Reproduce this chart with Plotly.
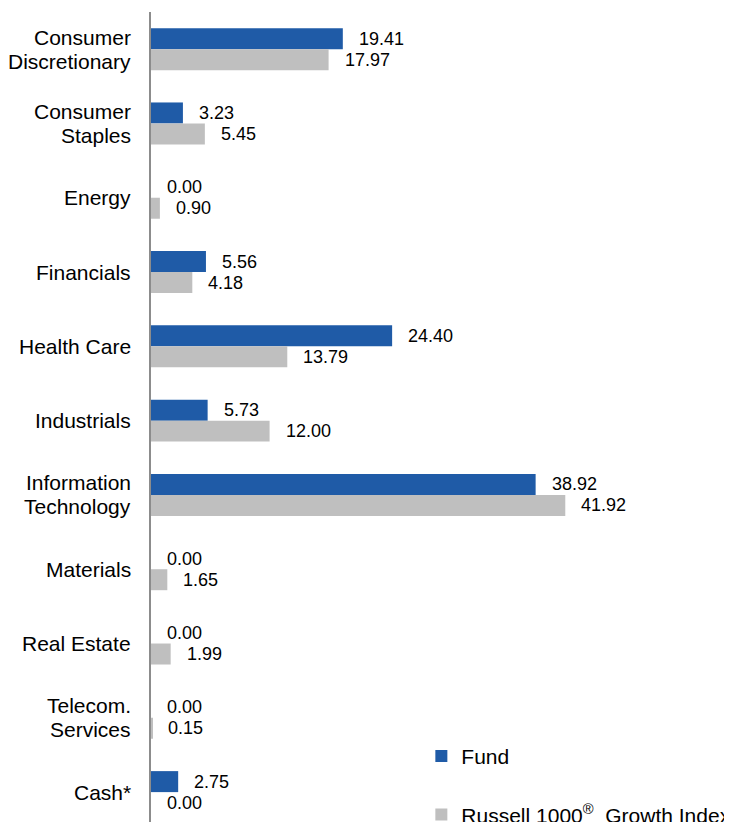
import plotly.graph_objects as go

categories = ["Consumer<br>Discretionary", "Consumer<br>Staples", "Energy", "Financials",
              "Health Care", "Industrials", "Information<br>Technology", "Materials",
              "Real Estate", "Telecom.<br>Services", "Cash*"]
fund = [19.41, 3.23, 0.00, 5.56, 24.40, 5.73, 38.92, 0.00, 0.00, 0.00, 2.75]
index_vals = [17.97, 5.45, 0.90, 4.18, 13.79, 12.00, 41.92, 1.65, 1.99, 0.15, 0.00]
series_names = ["Fund", "Russell 1000<sup>®</sup>  Growth Index"]

BLUE = "#1f5ba7"
GREY = "#bfbfbf"
FONT = "Liberation Sans, Arial, sans-serif"

fig = go.Figure()
fig.add_trace(go.Bar(y=categories, x=fund, orientation="h", name=series_names[0],
                     marker=dict(color=BLUE, line=dict(width=0)),
                     legendgroup="a"))
fig.add_trace(go.Bar(y=categories, x=index_vals, orientation="h", name=series_names[1],
                     marker=dict(color=GREY, line=dict(width=0)),
                     legendgroup="b"))

LINE_H = 24
annotations = []
for c, f, r in zip(categories, fund, index_vals):
    lines = c.split("<br>")
    n = len(lines)
    for i, ln in enumerate(lines):
        annotations.append(dict(x=0, y=c, xref="x", yref="y", text=ln, showarrow=False,
                                xanchor="right", xshift=-18,
                                yshift=(n - 1) / 2 * LINE_H - i * LINE_H,
                                align="center",
                                font=dict(family=FONT, size=21, color="#000")))
    annotations.append(dict(x=f, y=c, xref="x", yref="y", text=f"{f:.2f}", showarrow=False,
                            xanchor="left", xshift=14, yshift=10.5,
                            font=dict(family=FONT, size=18, color="#000")))
    annotations.append(dict(x=r, y=c, xref="x", yref="y", text=f"{r:.2f}", showarrow=False,
                            xanchor="left", xshift=14, yshift=-10.5,
                            font=dict(family=FONT, size=18, color="#000")))

fig.update_layout(
    width=732, height=822,
    margin=dict(l=143, r=0, t=4, b=0, autoexpand=False),
    paper_bgcolor="white", plot_bgcolor="white",
    barmode="group", bargap=0.435, bargroupgap=0,
    font=dict(family=FONT, size=18, color="#000"),
    xaxis=dict(range=[0, 59.6], visible=False, fixedrange=True),
    yaxis=dict(range=[10.51, -0.5], showticklabels=False, ticks="", showgrid=False,
               showline=True, linecolor="#8c8c8c", linewidth=2, zeroline=False),
    showlegend=True,
    legend=dict(x=0.459, y=0.115, xanchor="left", yanchor="top",
                traceorder="grouped", tracegroupgap=28,
                font=dict(family=FONT, size=21, color="#000"),
                bgcolor="rgba(0,0,0,0)"),
    annotations=annotations,
)

fig.write_html("out.html")
